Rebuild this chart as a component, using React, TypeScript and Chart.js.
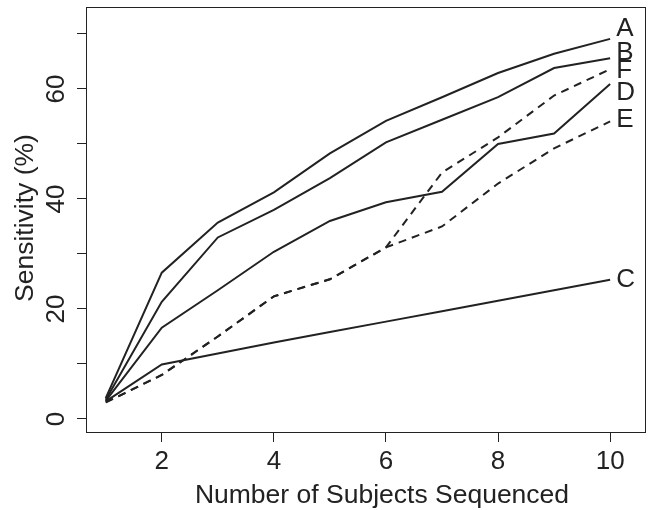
import React, { useEffect, useRef } from "react";
import { Chart, registerables } from "chart.js";

Chart.register(...registerables);

const subjects = [1, 2, 3, 4, 5, 6, 7, 8, 9, 10];
const seriesA = [3.8, 26.6, 35.7, 41.2, 48.3, 54.2, 58.5, 62.9, 66.4, 69.1];
const seriesB = [3.5, 21.3, 33.0, 38.0, 43.8, 50.3, 54.4, 58.5, 63.8, 65.6];
const seriesD = [3.3, 16.6, 23.4, 30.4, 36.0, 39.4, 41.3, 50.0, 51.9, 60.9];
const seriesF = [3.0, 8.0, 15.0, 22.3, 25.4, 31.2, 44.8, 51.2, 58.8, 63.6];
const seriesE = [3.0, 8.0, 15.0, 22.3, 25.4, 31.2, 35.0, 42.8, 49.2, 54.1];
const seriesC = [3.2, 9.9, 11.9, 13.9, 15.8, 17.7, 19.6, 21.5, 23.4, 25.3];

const seriesNames = ["A", "B", "F", "D", "E", "C"];
const labelValues = [71.2, 66.7, 63.5, 59.4, 54.6, 25.5];

const xTicks = [2, 4, 6, 8, 10];
const yTicks = [0, 10, 20, 30, 40, 50, 60, 70];
const yLabelled = [0, 20, 40, 60];

const xTitle = "Number of Subjects Sequenced";
const yTitle = "Sensitivity (%)";

const INK = "#222222";
const FONT = "'Liberation Sans', Arial, sans-serif";

const toPoints = (arr: number[]) => arr.map((v, i) => ({ x: subjects[i], y: v }));

export default function App() {
  const ref = useRef<HTMLCanvasElement | null>(null);

  useEffect(() => {
    if (!ref.current) return;

    const overlay = {
      id: "overlay",
      afterDraw(chart: any) {
        const { ctx, chartArea } = chart;
        const xs = chart.scales.x;
        const ys = chart.scales.y;
        ctx.save();
        // box
        ctx.strokeStyle = INK;
        ctx.lineWidth = 1;
        ctx.strokeRect(
          Math.round(chartArea.left) + 0.5,
          Math.round(chartArea.top) + 0.5,
          Math.round(chartArea.right - chartArea.left) - 1,
          Math.round(chartArea.bottom - chartArea.top) - 1
        );
        // series labels at the right end
        ctx.fillStyle = INK;
        ctx.font = `26px ${FONT}`;
        ctx.textAlign = "left";
        ctx.textBaseline = "middle";
        const lx = xs.getPixelForValue(subjects[subjects.length - 1]) + 6;
        seriesNames.forEach((n, i) => {
          ctx.fillText(n, lx, ys.getPixelForValue(labelValues[i]) + 1);
        });
        // x title
        ctx.font = `26.5px ${FONT}`;
        ctx.textAlign = "center";
        ctx.textBaseline = "alphabetic";
        ctx.fillText(xTitle, 382, 503);
        // y title
        ctx.translate(33, 218);
        ctx.rotate(-Math.PI / 2);
        ctx.textAlign = "center";
        ctx.textBaseline = "alphabetic";
        ctx.fillText(yTitle, 0, 0);
        ctx.restore();
      },
    };

    const solid = (data: number[]) => ({
      data: toPoints(data),
      borderColor: INK,
      borderWidth: 2,
      pointRadius: 0,
      fill: false,
      tension: 0,
    });
    const dashed = (data: number[]) => ({
      ...solid(data),
      borderDash: [8, 6],
    });

    const chart = new Chart(ref.current, {
      type: "line",
      data: {
        datasets: [
          { label: "A", ...solid(seriesA) },
          { label: "B", ...solid(seriesB) },
          { label: "F", ...dashed(seriesF) },
          { label: "D", ...solid(seriesD) },
          { label: "E", ...dashed(seriesE) },
          { label: "C", ...solid(seriesC) },
        ],
      },
      options: {
        responsive: false,
        animation: false,
        devicePixelRatio: 1,
        layout: { padding: { top: 7, right: 2, left: 0, bottom: 0 } },
        plugins: {
          legend: { display: false },
          tooltip: { enabled: false },
        },
        scales: {
          x: {
            type: "linear",
            position: "bottom",
            min: 0.648,
            max: 10.64,
            afterBuildTicks: (s: any) => {
              s.ticks = xTicks.map((v) => ({ value: v }));
            },
            afterFit: (s: any) => {
              s.height = 77;
              s.paddingLeft = 0;
              s.paddingRight = 0;
            },
            border: { display: false },
            grid: {
              display: true,
              drawOnChartArea: false,
              drawTicks: true,
              tickLength: 9,
              color: INK,
              lineWidth: 1,
            },
            ticks: {
              autoSkip: false,
              maxRotation: 0,
              minRotation: 0,
              padding: 4,
              color: INK,
              font: { family: FONT, size: 26 },
              callback: (v: any) => String(v),
            },
          },
          y: {
            type: "linear",
            position: "left",
            min: -2.55,
            max: 74.9,
            afterBuildTicks: (s: any) => {
              s.ticks = yTicks.map((v) => ({ value: v }));
            },
            afterFit: (s: any) => {
              s.width = 86;
              s.paddingTop = 0;
              s.paddingBottom = 0;
            },
            border: { display: false },
            grid: {
              display: true,
              drawOnChartArea: false,
              drawTicks: true,
              tickLength: 9,
              color: INK,
              lineWidth: 1,
            },
            ticks: {
              autoSkip: false,
              minRotation: 90,
              maxRotation: 90,
              crossAlign: "center",
              padding: 6,
              color: INK,
              font: { family: FONT, size: 26 },
              callback: (v: any) => (yLabelled.includes(Number(v)) ? String(v) : ""),
            },
          },
        },
      },
      plugins: [overlay],
    } as any);

    return () => chart.destroy();
  }, []);

  return (
    <div style={{ position: "fixed", left: 0, top: 0, width: 648, height: 510, background: "#fff" }}>
      <canvas ref={ref} width={648} height={510} style={{ display: "block" }} />
    </div>
  );
}
